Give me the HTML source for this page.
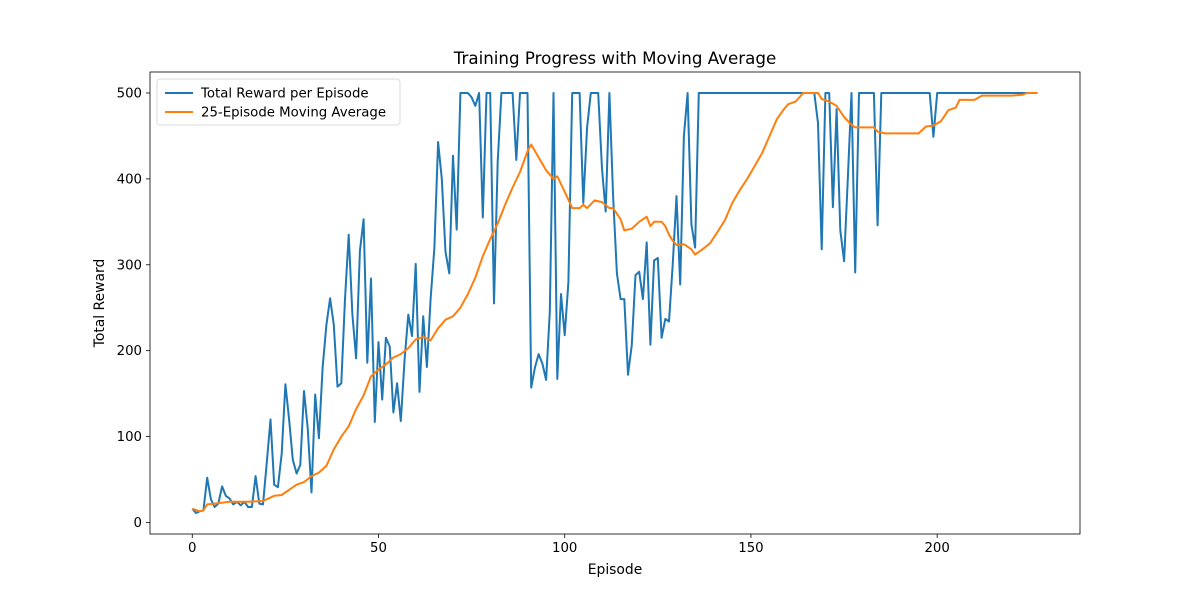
<!DOCTYPE html>
<html><head><meta charset="utf-8"><style>
body{margin:0;background:#fff;}
svg text{font-family:"DejaVu Sans","Liberation Sans",sans-serif;fill:#000;}
</style></head><body>
<svg id="chart" width="1200" height="600" xmlns="http://www.w3.org/2000/svg">
<rect width="1200" height="600" fill="#fff"/>
<text x="615" y="64" font-size="16.7" text-anchor="middle">Training Progress with Moving Average</text>
<g id="series"></g>
<rect x="150" y="72" width="930" height="462" fill="none" stroke="#000" stroke-width="0.8"/>
<g id="ticks"></g>
<text x="615" y="574" font-size="13.9" text-anchor="middle">Episode</text>
<text transform="translate(104,303) rotate(-90)" font-size="13.9" text-anchor="middle">Total Reward</text>
<g>
<rect x="157" y="79" width="243" height="46" rx="3" fill="#fff" stroke="#ccc" stroke-width="0.8" opacity="0.9"/>
<line x1="165" y1="93" x2="193" y2="93" stroke="#1f77b4" stroke-width="2"/>
<text x="201" y="97.5" font-size="13.3">Total Reward per Episode</text>
<line x1="165" y1="112" x2="193" y2="112" stroke="#ff7f0e" stroke-width="2"/>
<text x="201" y="116.5" font-size="13.3">25-Episode Moving Average</text>
</g>
</svg>
<script>
const rewards = [16,11,13,14,52,27,18,22,42,31,28,21,24,20,24,18,18,54,22,21,70,120,44,41,80,161,120,73,57,67,153,110,35,149,98,180,230,261,230,158,162,260,335,242,191,316,353,186,284,117,210,143,215,205,128,162,118,190,242,217,301,152,240,181,260,320,443,400,315,290,427,341,500,500,500,495,485,500,355,500,500,255,420,500,500,500,500,422,500,500,500,157,180,196,185,166,245,500,167,266,218,280,500,500,500,372,460,500,500,500,412,362,500,380,290,260,260,172,207,288,292,260,326,207,305,308,215,237,234,300,380,277,450,500,347,320,500,500,500,500,500,500,500,500,500,500,500,500,500,500,500,500,500,500,500,500,500,500,500,500,500,500,500,500,500,500,500,500,465,318,500,500,367,481,340,304,400,500,291,500,500,500,500,500,346,500,500,500,500,500,500,500,500,500,500,500,500,500,500,449,500,500,500,500,500,500,500,500,500,500,500,500,500,500,500,500,500,500,500,500,500,500,500,500,500,500];
const maEpisodes = [0,2,3,4,6,10,15,19,20,22,24,26,28,30,32,34,36,38,40,42,44,46,48,50,52,54,56,58,60,62,64,66,68,70,72,74,76,78,80,82,84,86,88,90,91,93,95,97,98,100,102,104,105,106,108,110,112,113,115,116,118,120,122,123,124,126,127,128,129,130,132,134,135,137,139,141,143,145,147,149,151,153,155,157,159,160,162,164,168,169,171,173,175,177,178,180,183,184,186,195,197,199,201,203,205,206,210,212,220,223,224,227];
const maValues = [16,13,14,21,22,24,24,25,27,31,32,38,44,47,54,58,66,85,100,112,132,148,170,178,184,192,196,203,213,216,212,226,236,240,250,266,285,310,330,348,370,390,408,432,440,425,410,400,403,385,366,366,370,366,375,373,366,366,353,340,342,350,356,345,350,350,345,335,328,323,324,318,312,318,325,338,352,372,387,400,415,430,450,470,482,487,490,500,500,493,490,485,472,463,460,460,460,455,453,453,461,462,467,480,483,492,492,497,497,498,500,500];
const xTicks = [0,50,100,150,200];
const yTicks = [0,100,200,300,400,500];
const X0=150,X1=1080,Y0=534,Y1=72, xmin=-11.35, xmax=238.35, ymin=-13.45, ymax=524.45;
const xs = v => X0 + (v - xmin) / (xmax - xmin) * (X1 - X0);
const ys = v => Y0 - (v - ymin) / (ymax - ymin) * (Y0 - Y1);
const NS = "http://www.w3.org/2000/svg";
const series = document.getElementById('series');
const ticks = document.getElementById('ticks');
function mk(tag, attrs, parent){const e=document.createElementNS(NS,tag);for(const k in attrs)e.setAttribute(k,attrs[k]);parent.appendChild(e);return e;}
const p1 = mk('polyline',{points:rewards.map((v,i)=>xs(i).toFixed(1)+','+ys(v).toFixed(1)).join(' '),fill:'none',stroke:'#1f77b4','stroke-width':2,'stroke-linejoin':'round'},series);


const p2 = mk('polyline',{points:maValues.map((v,i)=>xs(maEpisodes[i]).toFixed(1)+','+ys(v).toFixed(1)).join(' '),fill:'none',stroke:'#ff7f0e','stroke-width':2,'stroke-linejoin':'round'},series);


xTicks.forEach(t=>{
  const x=xs(t);
  mk('line',{x1:x,x2:x,y1:Y0,y2:Y0+4,stroke:'#000','stroke-width':0.8},ticks);
  const tx=mk('text',{x:x,y:Y0+18,'font-size':13.3,'text-anchor':'middle'},ticks);
  tx.textContent=t;
  
  
});
yTicks.forEach(t=>{
  const y=ys(t);
  mk('line',{x1:X0-4,x2:X0,y1:y,y2:y,stroke:'#000','stroke-width':0.8},ticks);
  const tx=mk('text',{x:X0-8,y:y+4.5,'font-size':13.3,'text-anchor':'end'},ticks);
  tx.textContent=t;
  
  
});
</script>
</body></html>
